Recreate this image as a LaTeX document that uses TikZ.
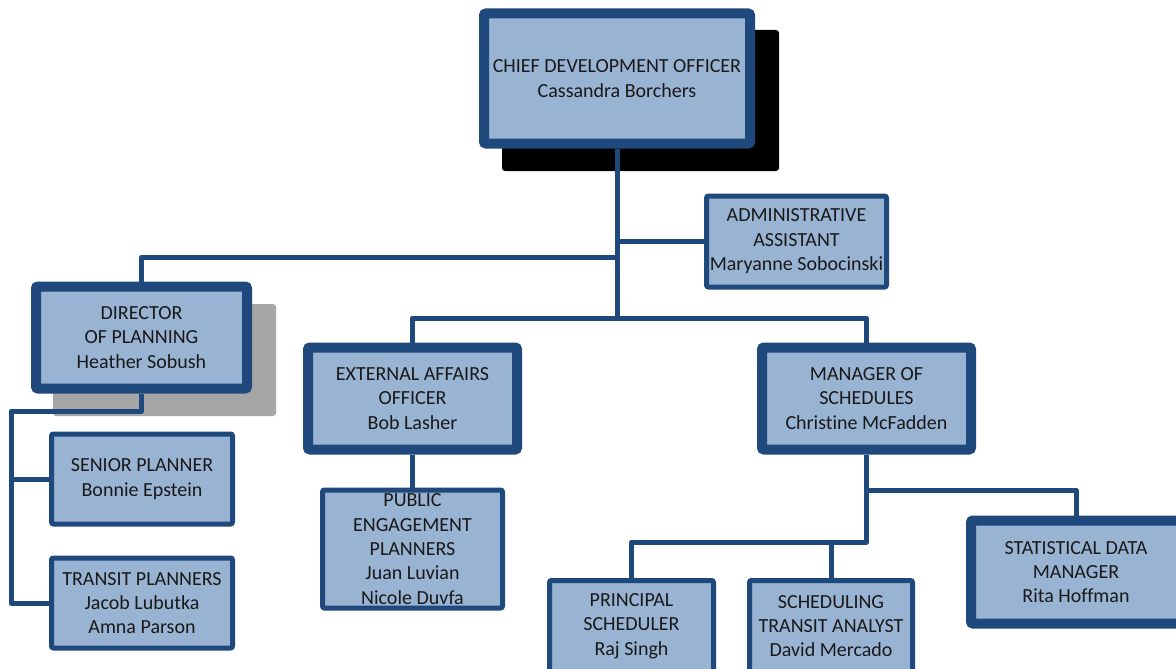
\documentclass[tikz,border=0pt]{standalone}
\usepackage{fontspec}
\setmainfont{Carlito}[Ligatures={NoCommon}]
\definecolor{bordblue}{HTML}{1F497D}
\definecolor{fillblue}{HTML}{99B3D3}
\definecolor{shadowgray}{HTML}{A6A6A6}
\begin{document}
\begin{tikzpicture}[x=1pt,y=-1pt,
  box/.style={draw=bordblue,fill=fillblue,rounded corners=2pt,inner sep=0pt,align=center,
    font=\fontsize{20}{24.4}\selectfont,text=black!90},
  thick box/.style={box,line width=10pt},
  thin box/.style={box,line width=5pt},
  conn/.style={draw=bordblue,line width=5pt,line join=round}]
\useasboundingbox (0,0) rectangle (1176,669);
\begin{scope}
\clip (0,0) rectangle (1176,669);
% shadows
\fill[black,rounded corners=3pt] (502,30) rectangle (779,171);
\fill[shadowgray,rounded corners=3pt] (53,304) rectangle (276,416);
% junction coordinates
\coordinate (cb) at (617,318);
\coordinate (j1) at (617,257);
\coordinate (d2) at (11,411);
\coordinate (m1) at (866.5,542);
\coordinate (m2) at (866.5,490);
% boxes
\node[thick box,minimum width=266,minimum height=130] (chief) at (617,78.5) {CHIEF DEVELOPMENT OFFICER\\Cassandra Borchers};
\node[thin box,minimum width=180,minimum height=91] (admin) at (796.5,241.5) {ADMINISTRATIVE\\ASSISTANT\\Maryanne Sobocinski};
\node[thick box,minimum width=211,minimum height=102] (dir) at (141.5,337.5) {DIRECTOR\\OF PLANNING\\Heather Sobush};
\node[thick box,minimum width=209,minimum height=102] (ext) at (412.5,398.5) {EXTERNAL AFFAIRS\\OFFICER\\Bob Lasher};
\node[thick box,minimum width=209,minimum height=102] (mgr) at (866.5,398.5) {MANAGER OF\\SCHEDULES\\Christine McFadden};
\node[thin box,minimum width=181,minimum height=90] (senior) at (142,479) {SENIOR PLANNER\\Bonnie Epstein};
\node[thin box,minimum width=181,minimum height=90] (transit) at (142,603) {TRANSIT PLANNERS\\Jacob Lubutka\\Amna Parson};
\node[thin box,minimum width=180,minimum height=118] (public) at (412.5,549) {PUBLIC\\ENGAGEMENT\\PLANNERS\\Juan Luvian\\Nicole Duvfa};
\node[thin box,minimum width=164,minimum height=91] (principal) at (631.5,626) {PRINCIPAL\\SCHEDULER\\Raj Singh};
\node[thin box,minimum width=163,minimum height=91] (sched) at (831,626) {SCHEDULING\\TRANSIT ANALYST\\David Mercado};
\node[thick box,minimum width=210,minimum height=103] (stat) at (1076,572) {STATISTICAL DATA\\MANAGER\\Rita Hoffman};
% connectors
\draw[conn] (chief.south) -- (cb);
\draw[conn] (admin.west) -- (admin.west -| chief.south);
\draw[conn] (dir.north) |- (j1);
\draw[conn] (ext.north) |- (cb) -| (mgr.north);
\draw[conn] (dir.south) |- (d2) |- (transit.west);
\draw[conn] (d2 |- senior.west) -- (senior.west);
\draw[conn] (ext.south) -- (public.north);
\draw[conn] (mgr.south) -- (m1) -| (principal.north);
\draw[conn] (sched.north) -- (sched.north |- m1);
\draw[conn] (m2) -| (stat.north);
\end{scope}
\end{tikzpicture}
\end{document}
